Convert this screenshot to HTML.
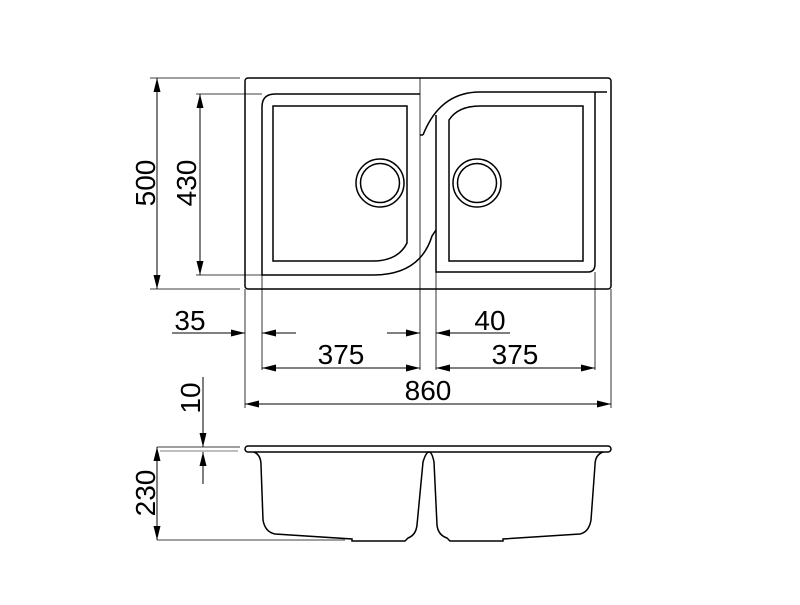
<!DOCTYPE html>
<html><head><meta charset="utf-8"><style>
html,body{margin:0;padding:0;background:#fff;}
svg text{font-family:"Liberation Sans",sans-serif;font-size:28px;fill:#000;}
</style></head><body>
<svg width="800" height="600" viewBox="0 0 800 600" xmlns="http://www.w3.org/2000/svg">
<defs>
<marker id="a" viewBox="0 0 14 7" refX="14" refY="3.5" markerWidth="14" markerHeight="7" markerUnits="userSpaceOnUse" orient="auto-start-reverse"><path d="M0,0L14,3.5L0,7Z" fill="#000"/></marker>
</defs>
<g fill="none" stroke="#000" stroke-width="1">
<rect x="245" y="78" width="366" height="211" rx="3" stroke-width="1.5"/>
<path d="M420,94 H275 Q262,94 262,107 V275 H373 Q420,275 432,236 L436,230" stroke-width="1.5"/>
<path d="M273,106 H407 V243 Q398,261 373,261 H273 Z" stroke-width="1.5"/>
<path d="M423,135 Q440,92 480,92 H607" stroke-width="1.5"/>
<path d="M423,135 L420,135" stroke-width="1.5"/>
<path d="M436,115 V272 H588 Q595,272 595,264 V92" stroke-width="1.5"/>
<path d="M449,120 Q458,106 480,106 H583 V261 H449 Z" stroke-width="1.5"/>
<circle cx="380" cy="183" r="24" stroke-width="1.5"/>
<circle cx="380" cy="183" r="19.5" stroke-width="1.5"/>
<circle cx="477" cy="183" r="24" stroke-width="1.5"/>
<circle cx="477" cy="183" r="19.5" stroke-width="1.5"/>
<line x1="420" y1="78" x2="420" y2="370" stroke-width="0.8"/>
<line x1="436" y1="115" x2="436" y2="370" stroke-width="0.8"/>
<line x1="245" y1="289" x2="245" y2="408" stroke-width="0.8"/>
<line x1="262" y1="275" x2="262" y2="370" stroke-width="0.8"/>
<line x1="595" y1="272" x2="595" y2="370" stroke-width="0.8"/>
<line x1="611" y1="289" x2="611" y2="408" stroke-width="0.8"/>
<line x1="150" y1="78" x2="240" y2="78" stroke-width="0.8"/>
<line x1="150" y1="289" x2="240" y2="289" stroke-width="0.8"/>
<line x1="196" y1="94" x2="262" y2="94" stroke-width="0.8"/>
<line x1="196" y1="275" x2="262" y2="275" stroke-width="0.8"/>
<line x1="157" y1="78" x2="157" y2="289" marker-start="url(#a)" marker-end="url(#a)"/>
<line x1="200" y1="94" x2="200" y2="275" marker-start="url(#a)" marker-end="url(#a)"/>
<line x1="172" y1="333" x2="245" y2="333" marker-end="url(#a)"/>
<line x1="296" y1="333" x2="262" y2="333" marker-end="url(#a)"/>
<line x1="387" y1="333" x2="420" y2="333" marker-end="url(#a)"/>
<line x1="510" y1="333" x2="436" y2="333" marker-end="url(#a)"/>
<line x1="262" y1="368" x2="420" y2="368" marker-start="url(#a)" marker-end="url(#a)"/>
<line x1="436" y1="368" x2="595" y2="368" marker-start="url(#a)" marker-end="url(#a)"/>
<line x1="245" y1="404" x2="611" y2="404" marker-start="url(#a)" marker-end="url(#a)"/>
<rect x="245" y="446" width="366" height="6" rx="3" stroke-width="1.5"/>
<path d="M254,452 Q261,455 261,465 L263,520 Q265,532 275,534 L352,539 V541 H405 L408,538 Q416,535 417,525 L423,462 Q426,452 429,452 Q432,452 434,462 L437,525 Q438,535 447,538 L450,541 H503 V539 L580,534 Q589,532 591,520 L595,465 Q595,455 603,452" stroke-width="1.5"/>
<line x1="157" y1="447" x2="240" y2="447" stroke-width="0.8"/>
<line x1="160" y1="451" x2="238" y2="451" stroke-width="0.6"/>
<line x1="157" y1="540" x2="345" y2="540" stroke-width="0.8"/>
<line x1="157" y1="447" x2="157" y2="540" marker-start="url(#a)" marker-end="url(#a)"/>
<line x1="203" y1="377" x2="203" y2="447" marker-end="url(#a)"/>
<line x1="203" y1="484" x2="203" y2="452" marker-end="url(#a)"/>
</g>
<g>
<text x="145" y="183" text-anchor="middle" transform="rotate(-90 145 183)" dy="10">500</text>
<text x="186" y="183" text-anchor="middle" transform="rotate(-90 186 183)" dy="10">430</text>
<text x="190" y="330" text-anchor="middle">35</text>
<text x="490" y="330" text-anchor="middle">40</text>
<text x="341" y="364" text-anchor="middle">375</text>
<text x="515" y="364" text-anchor="middle">375</text>
<text x="428" y="400" text-anchor="middle">860</text>
<text x="190" y="398" text-anchor="middle" transform="rotate(-90 190 398)" dy="10">10</text>
<text x="145" y="493" text-anchor="middle" transform="rotate(-90 145 493)" dy="10">230</text>
</g>
</svg>
</body></html>
